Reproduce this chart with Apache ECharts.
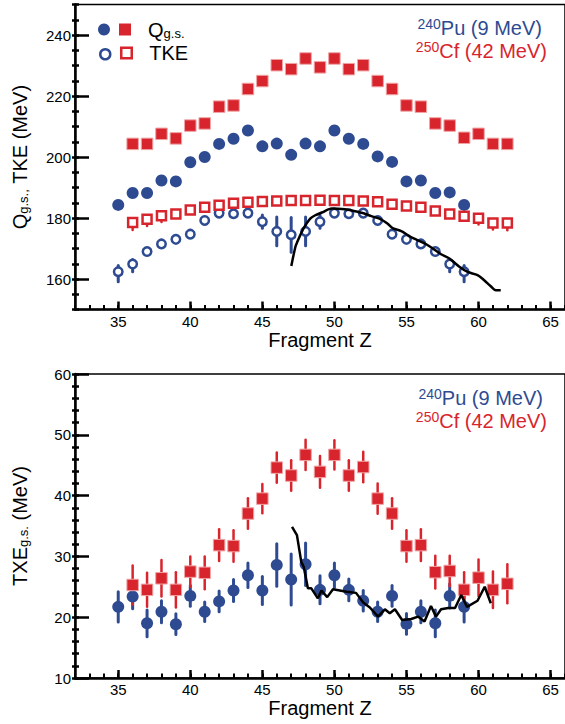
<!DOCTYPE html>
<html><head><meta charset="utf-8">
<script src="https://cdn.jsdelivr.net/npm/echarts@6/dist/echarts.min.js"></script>
<style>html,body{margin:0;padding:0;background:#fff}#c{width:565px;height:724px}</style>
</head><body><div id="c"></div>
<script>
// ---------- data ----------
const puZ = [35,36,37,38,39,40,41,42,43,44,45,46,47,48,49,50,51,52,53,54,55,56,57,58,59];
const cfZ = [36,37,38,39,40,41,42,43,44,45,46,47,48,49,50,51,52,53,54,55,56,57,58,59,60,61,62];

// top panel: Q g.s. and TKE (MeV)
const puQ = [184.3,188.2,188.2,192.3,192.0,198.3,200.0,204.3,206.0,208.7,203.5,204.4,200.7,204.4,203.5,208.7,206.0,204.3,200.2,198.4,192.0,192.3,188.2,188.4,184.3];
const cfQ = [204.3,204.3,207.6,206.1,210.3,211.0,216.5,216.9,222.3,224.9,230.1,228.8,232.3,229.4,232.3,228.8,230.1,224.9,222.3,216.9,216.5,211.0,210.3,206.3,207.6,204.3,204.3];
const puTKE = [162.4,164.9,169.0,171.5,173.0,174.7,179.2,181.6,181.4,181.6,178.8,175.6,174.5,175.6,178.8,181.6,181.4,181.6,179.2,174.7,173.0,171.5,169.0,164.9,162.4];
const puTKEerrLo = [3.3,2.5,1,1,1,1,1,1,1,1,2.2,4.7,5.7,4.7,2.2,1,1,1,1,1,1,1,1,2.5,3.3];
const puTKEerrHi = [2.0,1.5,1,1,1,1,1,1,1,1,2.2,4.7,5.7,4.7,2.2,1,1,1,1,1,1,1,1,1.5,2.0];
const cfTKE = [178.5,179.6,180.7,181.3,182.6,183.5,184.2,184.8,185.2,185.4,185.6,185.7,185.7,185.8,185.7,185.7,185.6,185.3,184.5,183.9,183.5,182.3,181.3,180.6,179.9,178.4,178.4];
const cfTKEerrLo = [2.4,2.2,2.0,1,1,1,1,1,1,1,1,1,1,1,1,1,1,1,1,1,1,1,1,1,2.0,2.2,2.4];
const cfTKEerrHi = [1,1,1,1,1,1,1,1,1,1,1,1,1,1,1,1,1,1,1,1,1,1,1,1,1,1,1];

// theory curve, top panel
const thTopZ = [47.01,47.29,47.40,47.86,48.32,48.67,49.13,49.82,50.74,51.08,51.89,52.57,53.26,53.72,54.07,54.64,55.22,55.79,56.37,56.83,57.40,57.98,58.67,59.24,59.93,60.39,60.85,61.20,61.54];
const thTopV = [164.3,170.5,171.9,176.6,179.8,180.9,181.8,183.1,182.9,182.6,181.7,180.6,179.5,178.0,176.6,175.7,174.0,172.7,171.4,170.0,168.1,166.7,164.0,162.3,161.3,159.6,157.6,156.3,156.3];

// bottom panel: TXE g.s. (MeV)
const puTXE = [21.7,23.4,19.0,20.9,18.85,23.5,20.9,22.6,24.4,26.9,24.4,28.6,26.2,28.7,24.5,26.9,24.5,22.7,20.9,23.5,18.9,20.9,19.0,23.5,21.7];
const puTXEerr = [2.5,2.0,2.2,1.8,1.7,1.7,1.6,1.7,1.8,2.0,2.3,3.5,4.2,3.5,2.3,2.0,1.8,1.7,1.6,1.7,1.7,1.8,2.2,2.0,2.5];
const cfTXE = [25.3,24.5,26.4,24.5,27.5,27.3,31.85,31.7,37.05,39.5,44.6,43.3,46.7,43.9,46.7,43.3,44.7,39.5,37.05,31.7,31.85,27.4,27.6,24.5,26.5,24.5,25.5];
const cfTXEerr = [3.2,2.8,3.0,2.9,2.5,2.7,2.6,2.6,2.5,2.4,2.5,2.5,2.5,2.6,2.4,2.5,2.5,2.5,2.5,2.6,2.6,2.7,2.5,2.9,3.0,3.0,3.2];

// theory curve, bottom panel
const thBotZ = [47.06,47.40,47.70,47.87,48.16,48.40,48.85,49.10,49.50,49.90,50.85,51.50,52.00,52.46,53.03,53.50,53.84,54.20,54.70,55.33,55.80,56.25,56.70,57.05,57.40,57.90,58.37,58.80,59.20,59.93,60.43,60.85];
const thBotV = [34.85,33.5,29.1,28.3,24.75,24.75,23.1,24.4,23.3,24.6,24.2,24.0,22.4,21.6,20.1,21.3,20.65,21.3,19.55,19.7,20.1,19.3,21.85,20.1,21.3,21.5,21.5,23.65,21.7,22.7,25.0,22.3];

// ticks
const xMajor = [35,40,45,50,55,60,65];
const yTopMajor = [160,180,200,220,240];

// ---------- chart ----------
const BLUE = '#2e4b92', RED = '#d8252d', PINK = '#f0a4a6';
const FONT = '"Liberation Sans", Arial, Helvetica, sans-serif';
const pairs = (zs, vs) => zs.map((z, i) => [z, vs[i]]);
const quads = (zs, vs, lo, hi) => zs.map((z, i) => [z, vs[i], lo[i], hi[i]]);

function errSeries(name, data, color, width, xi, yi) {
  return {
    type: 'custom', name, xAxisIndex: xi, yAxisIndex: yi, z: 2,
    data, encode: { x: 0, y: 1 }, silent: true,
    renderItem: function (params, api) {
      const x = api.value(0), y = api.value(1), lo = api.value(2), hi = api.value(3);
      const p1 = api.coord([x, y - lo]);
      const p2 = api.coord([x, y + hi]);
      return { type: 'line', shape: { x1: p1[0], y1: p1[1], x2: p2[0], y2: p2[1] },
        style: { stroke: color, lineWidth: width, lineCap: 'round' } };
    }
  };
}

const GW = 493, G0T = 4.5, G0H = 305, G1T = 374, G1H = 304;

function xAxes(gi, gh) {
  return [
    { gridIndex: gi, type: 'value', min: 32, max: 66, position: 'bottom',
      axisLine: { onZero: false, lineStyle: { color: '#000', width: 2.5 } },
      axisTick: { inside: true, length: 8, customValues: xMajor, lineStyle: { color: '#000', width: 2.5 } },
      axisLabel: { customValues: xMajor, margin: 4, fontSize: 15, color: '#000', fontFamily: FONT },
      splitLine: { show: false },
      name: 'Fragment Z', nameLocation: 'middle', nameGap: 20,
      nameTextStyle: { fontSize: 20, color: '#000', fontFamily: FONT } },
    { gridIndex: gi, type: 'value', min: 32, max: 66, interval: 1, position: 'top', offset: -gh,
      axisLine: { show: false, onZero: false },
      axisTick: { inside: false, length: 4.5, lineStyle: { color: '#000', width: 2 } },
      axisLabel: { show: false }, splitLine: { show: false } }
  ];
}

const richName = {
  q: { fontSize: 20, lineHeight: 20, color: '#000', fontFamily: FONT },
  s: { fontSize: 13, lineHeight: 14, verticalAlign: 'bottom', color: '#000', fontFamily: FONT }
};
function titleItem(sup, txt, color, right, top) {
  return { text: '{sup|' + sup + '}{b|' + txt + '}', right, top, padding: 0,
    textStyle: { fontWeight: 'normal', rich: {
      sup: { fontSize: 14, color, verticalAlign: 'top', lineHeight: 8, fontFamily: FONT },
      b: { fontSize: 20, color, lineHeight: 22, fontFamily: FONT } } } };
}

const option = {
  animation: false,
  backgroundColor: '#fff',
  textStyle: { fontFamily: FONT },
  grid: [
    { left: 75, top: G0T, width: GW, height: G0H, show: true, borderColor: '#000', borderWidth: 1.5 },
    { left: 75, top: G1T, width: GW, height: G1H, show: true, borderColor: '#000', borderWidth: 1.5 }
  ],
  xAxis: [...xAxes(0, G0H), ...xAxes(1, G1H)],
  yAxis: [
    { gridIndex: 0, type: 'value', min: 150, max: 250, position: 'left',
      axisLine: { onZero: false, lineStyle: { color: '#000', width: 2.5 } },
      axisTick: { inside: true, length: 14, customValues: yTopMajor, lineStyle: { color: '#000', width: 2.5 } },
      axisLabel: { customValues: yTopMajor, margin: 4, fontSize: 15, color: '#000', fontFamily: FONT },
      splitLine: { show: false },
      name: '{q|Q}{s|g.s.,}{q| TKE (MeV)}', nameLocation: 'middle', nameGap: 45, nameRotate: 90,
      nameTextStyle: { color: '#000', fontFamily: FONT, fontSize: 20, rich: richName } },
    { gridIndex: 0, type: 'value', min: 150, max: 250, interval: 5, position: 'right', offset: -GW,
      axisLine: { show: false, onZero: false },
      axisTick: { inside: false, length: 7, lineStyle: { color: '#000', width: 2.5 } },
      axisLabel: { show: false }, splitLine: { show: false } },
    { gridIndex: 1, type: 'value', min: 10, max: 60, interval: 10, position: 'left',
      axisLine: { onZero: false, lineStyle: { color: '#000', width: 2.5 } },
      axisTick: { inside: true, length: 14, lineStyle: { color: '#000', width: 2.5 } },
      axisLabel: { margin: 4, fontSize: 15, color: '#000', fontFamily: FONT },
      splitLine: { show: false },
      name: '{q|TXE}{s|g.s.}{q| (MeV)}', nameLocation: 'middle', nameGap: 45, nameRotate: 90,
      nameTextStyle: { color: '#000', fontFamily: FONT, fontSize: 20, rich: richName } },
    { gridIndex: 1, type: 'value', min: 10, max: 60, interval: 2, position: 'right', offset: -GW,
      axisLine: { show: false, onZero: false },
      axisTick: { inside: false, length: 7, lineStyle: { color: '#000', width: 2.5 } },
      axisLabel: { show: false }, splitLine: { show: false } }
  ],
  title: [
    titleItem('240', 'Pu (9 MeV)', BLUE, 23, 17),
    titleItem('250', 'Cf (42 MeV)', RED, 18, 40),
    titleItem('240', 'Pu (9 MeV)', BLUE, 22, 387),
    titleItem('250', 'Cf (42 MeV)', RED, 18, 410)
  ],
  legend: [
    { data: ['PuQ'], left: 98, top: 23.5, padding: 0, itemWidth: 12, itemHeight: 12, selectedMode: false,
      formatter: () => '', itemStyle: { borderWidth: 0 } },
    { data: ['CfQ'], left: 119, top: 19.5, padding: 0, itemWidth: 12, itemHeight: 12, selectedMode: false,
      itemStyle: { borderWidth: 0 },
      formatter: () => '{q|Q}{s|g.s.}',
      textStyle: { rich: { q: { fontSize: 20, lineHeight: 20, color: '#000', fontFamily: FONT, padding: [0, 0, 0, 12] },
        s: { fontSize: 13, lineHeight: 14, verticalAlign: 'bottom', color: '#000', fontFamily: FONT } } } },
    { data: ['PuTKE'], left: 99, top: 48, padding: 0, itemWidth: 10, itemHeight: 10, selectedMode: false,
      formatter: () => '', itemStyle: { borderWidth: 2.5 } },
    { data: ['CfTKE'], left: 120, top: 43, padding: 0, itemWidth: 10.5, itemHeight: 10.5, selectedMode: false,
      itemStyle: { borderWidth: 2.5 },
      formatter: () => '{q|TKE}',
      textStyle: { rich: { q: { fontSize: 20, lineHeight: 20, color: '#000', fontFamily: FONT, padding: [0, 0, 0, 12.5] } } } }
  ],
  series: [
    errSeries('errPuTKE', quads(puZ, puTKE, puTKEerrLo, puTKEerrHi), BLUE, 3, 0, 0),
    errSeries('errCfTKE', quads(cfZ, cfTKE, cfTKEerrLo, cfTKEerrHi), RED, 2.5, 0, 0),
    { type: 'scatter', name: 'PuQ', xAxisIndex: 0, yAxisIndex: 0, z: 3, symbol: 'circle', symbolSize: 12,
      itemStyle: { color: BLUE, opacity: 1 }, data: pairs(puZ, puQ) },
    { type: 'scatter', name: 'CfQ', xAxisIndex: 0, yAxisIndex: 0, z: 3, symbol: 'rect', symbolSize: 11.5,
      itemStyle: { color: RED, borderColor: PINK, borderWidth: 1, opacity: 1 }, data: pairs(cfZ, cfQ) },
    { type: 'scatter', name: 'PuTKE', xAxisIndex: 0, yAxisIndex: 0, z: 3, symbol: 'circle', symbolSize: 8.5,
      itemStyle: { color: '#fff', borderColor: BLUE, borderWidth: 2.5, opacity: 1 }, data: pairs(puZ, puTKE) },
    { type: 'scatter', name: 'CfTKE', xAxisIndex: 0, yAxisIndex: 0, z: 3, symbol: 'rect', symbolSize: 9,
      itemStyle: { color: '#fff', borderColor: RED, borderWidth: 2.5, opacity: 1 }, data: pairs(cfZ, cfTKE) },
    { type: 'line', name: 'theoryTop', xAxisIndex: 0, yAxisIndex: 0, z: 4, showSymbol: false, smooth: 0.3,
      lineStyle: { color: '#000', width: 2.5 }, data: pairs(thTopZ, thTopV) },

    errSeries('errPuTXE', quads(puZ, puTXE, puTXEerr, puTXEerr), BLUE, 3, 2, 2),
    errSeries('errCfTXE', quads(cfZ, cfTXE, cfTXEerr, cfTXEerr), RED, 2.5, 2, 2),
    { type: 'scatter', name: 'PuTXE', xAxisIndex: 2, yAxisIndex: 2, z: 3, symbol: 'circle', symbolSize: 12,
      itemStyle: { color: BLUE, opacity: 1 }, data: pairs(puZ, puTXE) },
    { type: 'scatter', name: 'CfTXE', xAxisIndex: 2, yAxisIndex: 2, z: 3, symbol: 'rect', symbolSize: 11.5,
      itemStyle: { color: RED, borderColor: PINK, borderWidth: 1, opacity: 1 }, data: pairs(cfZ, cfTXE) },
    { type: 'line', name: 'theoryBot', xAxisIndex: 2, yAxisIndex: 2, z: 4, showSymbol: false,
      lineStyle: { color: '#000', width: 2.5 }, data: pairs(thBotZ, thBotV) }
  ]
};

const chart = echarts.init(document.getElementById('c'), null, { renderer: 'svg' });
chart.setOption(option);
</script>
</body></html>
